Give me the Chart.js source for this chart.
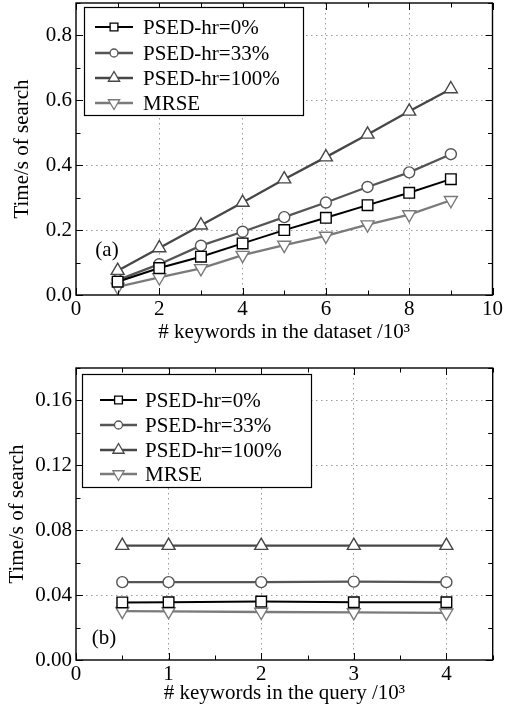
<!DOCTYPE html>
<html>
<head>
<meta charset="utf-8">
<script src="https://cdn.jsdelivr.net/npm/chart.js@4"></script>
<style>
  html, body { margin: 0; padding: 0; background: #fff; }
  .panel { position: absolute; left: 0; width: 511px; height: 356px; }
</style>
</head>
<body>
<div class="panel" style="top:0"><canvas id="chartA" width="511" height="356"></canvas></div>
<div class="panel" style="top:356px"><canvas id="chartB" width="511" height="356"></canvas></div>
<script>
// (a) time vs number of keywords in the dataset (x 10^3)
const datasetKeywords = [1, 2, 3, 4, 5, 6, 7, 8, 9];
const psed0A   = [0.041, 0.083, 0.118, 0.159, 0.200, 0.238, 0.277, 0.315, 0.357];
const psed33A  = [0.046, 0.095, 0.152, 0.195, 0.240, 0.285, 0.333, 0.378, 0.434];
const psed100A = [0.075, 0.145, 0.215, 0.285, 0.357, 0.425, 0.495, 0.566, 0.635];
const mrseA    = [0.025, 0.054, 0.082, 0.123, 0.154, 0.182, 0.217, 0.248, 0.292];

// (b) time vs number of keywords in the query (x 10^3)
const queryKeywords = [0.5, 1, 2, 3, 4];
const psed0B   = [0.0355, 0.0356, 0.0360, 0.0356, 0.0356];
const psed33B  = [0.0480, 0.0480, 0.0480, 0.0483, 0.0480];
const psed100B = [0.0705, 0.0705, 0.0705, 0.0705, 0.0705];
const mrseB    = [0.0301, 0.0300, 0.0296, 0.0293, 0.0291];

const seriesNames = ['PSED-hr=0%', 'PSED-hr=33%', 'PSED-hr=100%', 'MRSE'];

const FONT = '"Liberation Serif", "Times New Roman", serif';
const FS = 21;
const styles = [
  { color: '#000000', pointStyle: 'rect', radius: 7.5, rotation: 0, legendRadius: 5.5 },
  { color: '#555555', pointStyle: 'circle', radius: 5.5, rotation: 0, legendRadius: 4 },
  { color: '#474747', pointStyle: 'triangle', radius: 7.5, rotation: 0, legendRadius: 6.5 },
  { color: '#7a7a7a', pointStyle: 'triangle', radius: 7.5, rotation: 180, legendRadius: 6.5 }
];

function buildDatasets(xs, series) {
  return series.map((ys, i) => ({
    label: seriesNames[i],
    data: xs.map((x, j) => ({ x, y: ys[j] })),
    borderColor: styles[i].color,
    borderWidth: i === 0 ? 2 : 2.3,
    pointStyle: styles[i].pointStyle,
    pointRotation: styles[i].rotation,
    pointRadius: styles[i].radius,
    pointBorderWidth: 1.4,
    pointBorderColor: styles[i].color,
    pointBackgroundColor: '#ffffff',
    legendRadius: styles[i].legendRadius,
    tension: 0
  }));
}

// frame, inward ticks on all four sides, panel label and in-plot legend
const decoPlugin = {
  id: 'deco',
  afterDatasetsDraw(chart, args, opts) {
    const { ctx, chartArea: a } = chart;
    const xs = chart.scales.x, ys = chart.scales.y;
    ctx.save();
    ctx.strokeStyle = '#000';
    ctx.lineWidth = 1;
    xs.ticks.forEach(t => {
      const px = Math.round(xs.getPixelForValue(t.value)) + 0.5;
      const len = opts.xMajor(t.value) ? 7 : 4.5;
      ctx.beginPath();
      ctx.moveTo(px, a.bottom); ctx.lineTo(px, a.bottom - len);
      ctx.moveTo(px, a.top); ctx.lineTo(px, a.top + len);
      ctx.stroke();
    });
    ys.ticks.forEach(t => {
      const py = Math.round(ys.getPixelForValue(t.value)) + 0.5;
      const len = opts.yMajor(t.value) ? 7 : 4.5;
      ctx.beginPath();
      ctx.moveTo(a.left, py); ctx.lineTo(a.left + len, py);
      ctx.moveTo(a.right, py); ctx.lineTo(a.right - len, py);
      ctx.stroke();
    });
    ctx.lineWidth = 1.4;
    ctx.strokeRect(a.left, a.top, a.right - a.left, a.bottom - a.top);

    // panel label
    ctx.fillStyle = '#000';
    ctx.font = FS + 'px ' + FONT;
    ctx.textAlign = 'center';
    ctx.textBaseline = 'middle';
    ctx.fillText(opts.label, opts.labelX, opts.labelY);

    // legend
    const L = opts.legend;
    ctx.fillStyle = '#fff';
    ctx.fillRect(L.x, L.y, L.w, L.h);
    ctx.lineWidth = 1.2;
    ctx.strokeStyle = '#000';
    ctx.strokeRect(L.x + 0.5, L.y + 0.5, L.w, L.h);
    chart.data.datasets.forEach((ds, i) => {
      const ry = L.rows[i];
      ctx.strokeStyle = ds.borderColor;
      ctx.lineWidth = ds.borderWidth;
      ctx.beginPath();
      ctx.moveTo(L.sx0, ry); ctx.lineTo(L.sx1, ry);
      ctx.stroke();
      ctx.fillStyle = '#fff';
      ctx.lineWidth = 1.3;
      Chart.helpers.drawPoint(ctx, {
        pointStyle: ds.pointStyle, radius: ds.legendRadius,
        rotation: ds.pointRotation, borderWidth: 1.3
      }, (L.sx0 + L.sx1) / 2, ry);
      ctx.fillStyle = '#000';
      ctx.font = FS + 'px ' + FONT;
      ctx.textAlign = 'left';
      ctx.textBaseline = 'middle';
      ctx.fillText(ds.label, L.tx, ry + 1);
    });
    ctx.restore();
  }
};

function makeChart(id, cfg) {
  const gridColor = fn => c => (c.tick && fn(c.tick.value)) ? '#9a9a9a' : 'rgba(0,0,0,0)';
  return new Chart(document.getElementById(id), {
    type: 'line',
    data: { datasets: cfg.datasets },
    options: {
      responsive: false,
      animation: false,
      layout: { padding: cfg.padding, autoPadding: false },
      plugins: {
        legend: { display: false },
        tooltip: { enabled: false },
        deco: cfg.deco
      },
      scales: {
        x: {
          type: 'linear', min: cfg.xMin, max: cfg.xMax,
          afterFit: s => { s.height = cfg.xHeight; s.paddingLeft = 0; s.paddingRight = 0; },
          border: { display: false, dash: [1.5, 3.5] },
          grid: { color: gridColor(cfg.xGrid), drawTicks: false, lineWidth: 1 },
          ticks: {
            stepSize: cfg.xStep, autoSkip: false, maxRotation: 0, padding: 2,
            color: '#000', font: { family: FONT, size: FS },
            callback: cfg.xLabel
          },
          title: {
            display: true, text: cfg.xTitle, color: '#000',
            font: { family: FONT, size: FS }, padding: { top: 0, bottom: cfg.xTitlePad }
          }
        },
        y: {
          min: cfg.yMin, max: cfg.yMax,
          afterFit: s => { s.width = 76; s.paddingTop = 0; s.paddingBottom = 0; },
          border: { display: false, dash: [1.5, 3.5] },
          grid: { color: gridColor(cfg.yGrid), drawTicks: false, lineWidth: 1 },
          ticks: {
            stepSize: cfg.yStep, autoSkip: false, padding: 4,
            color: '#000', font: { family: FONT, size: FS },
            callback: cfg.yLabel
          },
          title: {
            display: true, text: 'Time/s of search', color: '#000',
            font: { family: FONT, size: FS }, padding: { top: cfg.yTitlePad, bottom: 0 }
          }
        }
      }
    },
    plugins: [decoPlugin]
  });
}

const evenA = v => Math.round(v) % 2 === 0;
const evenTenths = v => Math.round(v * 10) % 2 === 0;
const mult4 = v => Math.round(v * 100) % 4 === 0;

makeChart('chartA', {
  datasets: buildDatasets(datasetKeywords, [psed0A, psed33A, psed100A, mrseA]),
  padding: { top: 3, right: 18.5, bottom: 0, left: 0 },
  xMin: 0, xMax: 10, xStep: 1, yMin: 0, yMax: 0.9, yStep: 0.1,
  xHeight: 61, yTitlePad: 10, xTitlePad: 11,
  xTitle: '# keywords in the dataset /10³',
  xGrid: v => evenA(v) && v > 0 && v < 10,
  yGrid: v => evenTenths(v) && v > 0,
  xLabel: v => evenA(v) ? String(v) : '',
  yLabel: v => evenTenths(v) ? v.toFixed(1) : '',
  deco: {
    label: '(a)', labelX: 107, labelY: 250,
    xMajor: evenA, yMajor: evenTenths,
    legend: { x: 84, y: 7, w: 219, h: 108, rows: [27, 53, 78, 103], sx0: 95, sx1: 133, tx: 143 }
  }
});

makeChart('chartB', {
  datasets: buildDatasets(queryKeywords, [psed0B, psed33B, psed100B, mrseB]),
  padding: { top: 12, right: 18.3, bottom: 0, left: 0 },
  xMin: 0, xMax: 4.5, xStep: 0.5, yMin: 0, yMax: 0.18, yStep: 0.02,
  xHeight: 52, yTitlePad: 5, xTitlePad: 6,
  xTitle: '# keywords in the query /10³',
  xGrid: v => Number.isInteger(v) && v > 0,
  yGrid: v => mult4(v) && v > 0,
  xLabel: v => Number.isInteger(v) ? String(v) : '',
  yLabel: v => mult4(v) ? v.toFixed(2) : '',
  deco: {
    label: '(b)', labelX: 104, labelY: 282,
    xMajor: v => Number.isInteger(v), yMajor: mult4,
    legend: { x: 82, y: 18, w: 229, h: 113, rows: [44, 69, 94, 118], sx0: 100, sx1: 137, tx: 145 }
  }
});
</script>
</body>
</html>
